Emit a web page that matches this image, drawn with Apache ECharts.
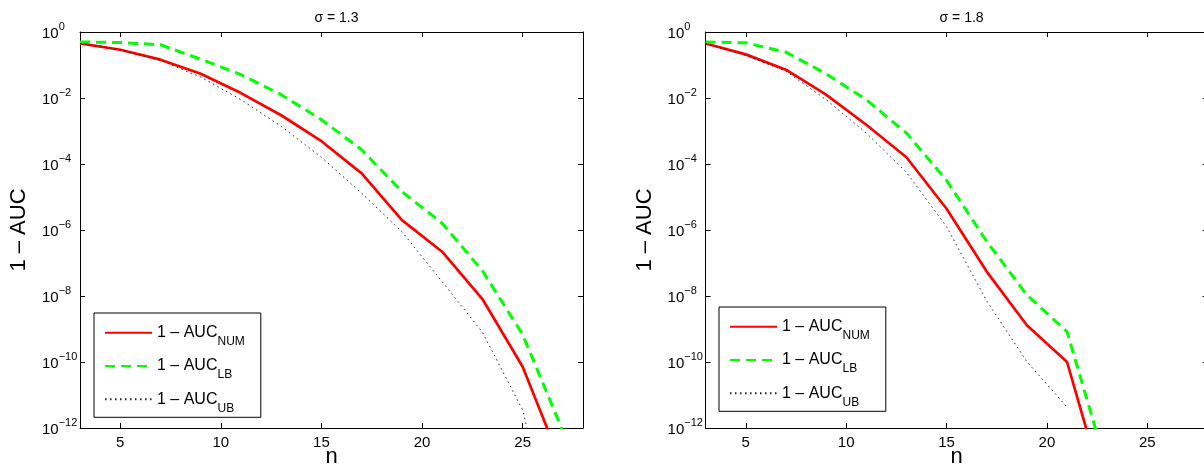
<!DOCTYPE html>
<html><head><meta charset="utf-8">
<script src="https://cdn.jsdelivr.net/npm/echarts@6/dist/echarts.min.js"></script>
<style>html,body{margin:0;padding:0;background:#fff}#c{width:1204px;height:472px}</style>
</head><body><div id="c"></div>
<script>
// ---- data ----
const titles = ['σ = 1.3', 'σ = 1.8'];
const xTickValues = [5, 10, 15, 20, 25];
const nLeft = [3, 5, 7, 9, 11, 13, 15, 17, 19, 21, 23, 25, 27];
const numLeft = [0.45, 0.29, 0.145, 0.054, 0.0141, 0.0030, 4.9e-4, 5.2e-5, 2.0e-6, 2.2e-7, 8.1e-9, 7.2e-11, 6.3e-14];
const lbLeft  = [0.50, 0.48, 0.41, 0.15, 0.051, 0.0126, 2.2e-3, 2.7e-4, 1.45e-5, 1.6e-6, 5.8e-8, 6.8e-10, 8e-13];
const ubLeft  = [0.45, 0.29, 0.138, 0.043, 8.9e-3, 1.38e-3, 1.6e-4, 1.3e-5, 8.9e-7, 2.7e-8, 8.0e-10, 3.5e-12, 3e-17];
const nRight = [3, 5, 7, 9, 11, 13, 15, 17, 19, 21, 23];
const numRight = [0.45, 0.21, 0.072, 0.0126, 1.55e-3, 1.6e-4, 4.4e-6, 5.5e-8, 1.3e-9, 1.0e-10, 6e-15];
const lbRight  = [0.50, 0.47, 0.245, 0.054, 8.9e-3, 8.7e-4, 3.2e-5, 4.5e-7, 1.07e-8, 8.3e-10, 6e-14];
const nRightUB = [3, 5, 7, 9, 11, 13, 15, 17, 19, 21];
const ubRight  = [0.45, 0.195, 0.065, 8.9e-3, 8.7e-4, 5.6e-5, 1.26e-6, 7.1e-9, 1.02e-10, 4.3e-12];
const seriesNames = ['NUM', 'LB', 'UB'];

// ---- chart ----
const FONT = 'Liberation Sans, Arial, Helvetica, sans-serif';
const pair = (xs, ys) => xs.map((x, i) => [x, ys[i]]);
const grids = [
  { left: 80, top: 32, width: 503, height: 396, outerBoundsMode: 'none', containLabel: false },
  { left: 705.6, top: 32, width: 502, height: 396, outerBoundsMode: 'none', containLabel: false }
];
const lineAxis = { show: true, lineStyle: { color: '#000', width: 1 } };
const xAxes = [], yAxes = [];
grids.forEach((g, gi) => {
  xAxes.push({
    type: 'value', gridIndex: gi, position: 'bottom', min: 3, max: 28,
    name: 'n', nameLocation: 'middle', nameGap: 18, nameMoveOverlap: false,
    nameTextStyle: { fontFamily: FONT, fontSize: 22, color: '#000' },
    axisLine: lineAxis, splitLine: { show: false },
    axisTick: { inside: true, length: 5, customValues: xTickValues, lineStyle: { color: '#000' } },
    axisLabel: { customValues: xTickValues, fontFamily: FONT, fontSize: 15, color: '#000', margin: 7 }
  });
  xAxes.push({
    type: 'value', gridIndex: gi, position: 'top', min: 3, max: 28,
    axisLine: lineAxis, splitLine: { show: false },
    axisTick: { inside: true, length: 5, customValues: xTickValues, lineStyle: { color: '#000' } },
    axisLabel: { show: false }
  });
  yAxes.push({
    type: 'log', logBase: 10, gridIndex: gi, position: 'left', min: 1e-12, max: 1, interval: 2,
    name: '1 – AUC', nameLocation: 'middle', nameGap: 50, nameMoveOverlap: false,
    nameTextStyle: { fontFamily: FONT, fontSize: 22, color: '#000' },
    axisLine: lineAxis, splitLine: { show: false }, minorTick: { show: false },
    axisTick: { inside: true, length: 5, lineStyle: { color: '#000' } },
    axisLabel: {
      align: 'left', margin: 38, color: '#000',
      formatter: v => { const e = Math.round(Math.log10(v)); return '{b|10}{s|' + (e < 0 ? '−' + (-e) : e) + '}'; },
      rich: {
        b: { fontFamily: FONT, fontSize: 15, color: '#000', padding: [3, 0, 0, 0] },
        s: { fontFamily: FONT, fontSize: 11, color: '#000', padding: [0, 0, 10, 0] }
      }
    }
  });
  yAxes.push({
    type: 'log', logBase: 10, gridIndex: gi, position: 'right', min: 1e-12, max: 1, interval: 2,
    axisLine: lineAxis, splitLine: { show: false }, minorTick: { show: false },
    axisTick: { inside: true, length: 5, lineStyle: { color: '#000' } },
    axisLabel: { show: false }
  });
});

const styles = {
  NUM: { color: '#ff0000', width: 2.7, type: 'solid' },
  LB:  { color: '#00ff00', width: 3, type: [10, 6] },
  UB:  { color: '#222222', width: 1, type: [1.5, 3.5] }
};
function mk(name, gi, data) {
  const s = styles[name];
  return {
    name, type: 'line', xAxisIndex: gi * 2, yAxisIndex: gi * 2, data,
    symbol: 'none', showSymbol: false, clip: true, animation: false,
    lineStyle: { color: s.color, width: s.width, type: s.type },
    itemStyle: { color: s.color }
  };
}
const series = [
  mk('NUM', 0, pair(nLeft, numLeft)), mk('LB', 0, pair(nLeft, lbLeft)), mk('UB', 0, pair(nLeft, ubLeft)),
  mk('NUM', 1, pair(nRight, numRight)), mk('LB', 1, pair(nRight, lbRight)), mk('UB', 1, pair(nRightUB, ubRight))
];

const legendBase = {
  orient: 'vertical', selectedMode: false, data: seriesNames,
  itemWidth: 47, itemHeight: 12, itemGap: 10.3,
  itemStyle: { opacity: 0 },
  backgroundColor: '#fff', borderColor: '#000', borderWidth: 1,
  padding: [11.7, 16, 3, 10],
  formatter: n => '{m|1 – AUC}{sub|' + n + '}',
  textStyle: {
    color: '#000',
    rich: {
      m: { fontFamily: FONT, fontSize: 16, color: '#000' },
      sub: { fontFamily: FONT, fontSize: 12, color: '#000', padding: [18, 0, 0, 0] }
    }
  }
};
const legends = [
  Object.assign({}, legendBase, { left: 94, top: 313 }),
  Object.assign({}, legendBase, { left: 719, top: 307 })
];

const chart = echarts.init(document.getElementById('c'), null, { renderer: 'canvas' });
chart.setOption({
  animation: false,
  backgroundColor: '#fff',
  title: titles.map((t, i) => ({
    text: t, left: grids[i].left + grids[i].width / 2, top: 6, textAlign: 'center',
    textStyle: { fontFamily: FONT, fontSize: 14, fontWeight: 'normal', color: '#000' }
  })),
  grid: grids,
  xAxis: xAxes,
  yAxis: yAxes,
  legend: legends,
  series
});
</script></body></html>
